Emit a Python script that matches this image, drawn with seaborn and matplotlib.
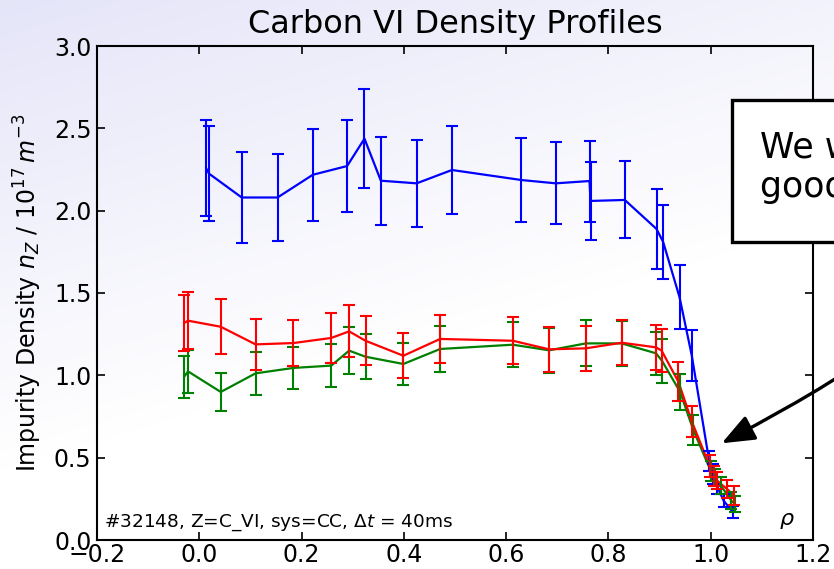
import numpy as np
import pandas as pd
import matplotlib
matplotlib.use("Agg")
import matplotlib.pyplot as plt
import seaborn as sns
from matplotlib.patches import FancyArrowPatch, Rectangle
from matplotlib.path import Path

# Carbon VI density profiles: normalised radius, density (1e17 m^-3) and 1-sigma errors
rho_a = [0.013, 0.019, 0.083, 0.153, 0.222, 0.289, 0.323, 0.355, 0.425, 0.494,
         0.630, 0.697, 0.763, 0.765, 0.832, 0.894, 0.907, 0.939, 0.963,
         0.997, 1.005, 1.012, 1.025, 1.043]
dens_a = [2.26, 2.225, 2.08, 2.08, 2.218, 2.271, 2.437, 2.182, 2.166, 2.247,
          2.186, 2.166, 2.18, 2.059, 2.065, 1.889, 1.81, 1.475, 1.12,
          0.48, 0.40, 0.33, 0.24, 0.17]
err_a = [0.29, 0.29, 0.275, 0.266, 0.28, 0.28, 0.30, 0.268, 0.263, 0.27,
         0.256, 0.25, 0.246, 0.238, 0.234, 0.245, 0.227, 0.195, 0.154,
         0.06, 0.06, 0.05, 0.04, 0.035]

rho_b = [-0.030, -0.022, 0.042, 0.110, 0.184, 0.258, 0.293, 0.325, 0.399, 0.471,
         0.613, 0.684, 0.756, 0.826, 0.893, 0.905, 0.940, 0.966,
         1.000, 1.008, 1.020, 1.040, 1.047]
dens_b = [0.99, 1.024, 0.899, 1.012, 1.045, 1.059, 1.15, 1.113, 1.069, 1.16,
          1.186, 1.152, 1.194, 1.194, 1.134, 1.087, 0.90, 0.668,
          0.42, 0.38, 0.33, 0.24, 0.22]
err_b = [0.128, 0.13, 0.117, 0.129, 0.13, 0.13, 0.143, 0.138, 0.13, 0.139,
         0.138, 0.137, 0.14, 0.135, 0.132, 0.132, 0.111, 0.091,
         0.06, 0.05, 0.05, 0.05, 0.05]

rho_c = [-0.030, -0.022, 0.042, 0.110, 0.184, 0.258, 0.293, 0.325, 0.399, 0.471,
         0.613, 0.684, 0.756, 0.826, 0.893, 0.904, 0.937, 0.963,
         0.998, 1.006, 1.012, 1.032, 1.045]
dens_c = [1.317, 1.332, 1.295, 1.188, 1.196, 1.227, 1.267, 1.21, 1.119, 1.221,
          1.21, 1.158, 1.164, 1.198, 1.17, 1.15, 0.96, 0.72,
          0.45, 0.39, 0.36, 0.31, 0.27]
err_c = [0.169, 0.172, 0.168, 0.153, 0.137, 0.152, 0.158, 0.148, 0.137, 0.147,
         0.143, 0.136, 0.137, 0.135, 0.135, 0.13, 0.118, 0.093,
         0.065, 0.06, 0.05, 0.055, 0.06]

series_names = ["A", "B", "C"]
series_colors = {"A": "#0000ff", "B": "#008000", "C": "#ff0000"}

x_ticks = [-0.2, 0.0, 0.2, 0.4, 0.6, 0.8, 1.0, 1.2]
y_ticks = [0.0, 0.5, 1.0, 1.5, 2.0, 2.5, 3.0]

frames = []
for name, r, d, e in zip(series_names, [rho_a, rho_b, rho_c],
                         [dens_a, dens_b, dens_c], [err_a, err_b, err_c]):
    frames.append(pd.DataFrame({"series": name, "rho": r, "density": d, "err": e}))
df = pd.concat(frames, ignore_index=True)

sns.set_style("ticks", {"xtick.direction": "in", "ytick.direction": "in",
                        "axes.edgecolor": "black", "text.color": "black",
                        "axes.labelcolor": "black", "xtick.color": "black",
                        "ytick.color": "black"})
plt.rcParams["font.family"] = ["DejaVu Sans"]
plt.rcParams["mathtext.fontset"] = "dejavusans"

W, H = 834, 569
fig = plt.figure(figsize=(W / 100, H / 100), dpi=100)

# soft lavender-to-white backdrop behind the whole figure
yy, xx = np.mgrid[0:H, 0:W]
amount = np.clip(1.0 - (yy + 0.3 * xx) / 470.0, 0, 1)[..., None]
top_col = np.array([0.898, 0.898, 0.976])
grad = 1.0 - amount * (1.0 - top_col)
bg = fig.add_axes([0, 0, 1, 1], zorder=-10)
bg.imshow(grad, aspect="auto", interpolation="bilinear")
bg.axis("off")

ax = fig.add_axes([97 / W, 1 - 540 / H, (813 - 97) / W, (540 - 46) / H])
ax.set_facecolor("none")

sns.lineplot(data=df, x="rho", y="density", hue="series", hue_order=series_names,
             palette=series_colors, estimator=None, sort=False, lw=1.6,
             legend=False, ax=ax)

for name in series_names:
    sub = df[df["series"] == name]
    ax.errorbar(sub["rho"], sub["density"], yerr=sub["err"], fmt="none",
                ecolor=series_colors[name], elinewidth=1.5, capsize=4.5,
                capthick=1.5)

ax.set_xlim(-0.2, 1.2)
ax.set_ylim(0, 3.0)
ax.set_xticks(x_ticks)
ax.set_yticks(y_ticks)
ax.tick_params(direction="in", length=6, width=1.2, top=True, right=True,
               labelsize=17, pad=4, colors="black")
ax.tick_params(axis="x", pad=2)
for sp in ax.spines.values():
    sp.set_linewidth(1.5)
    sp.set_visible(True)

ax.set_title("Carbon VI Density Profiles", fontsize=23, pad=9, color="black")
ax.set_xlabel("")
ax.set_ylabel(r"Impurity Density $n_Z$ / $10^{17}\,m^{-3}$", fontsize=17,
              labelpad=7, color="black")

ax.text(0.01, 0.026, r"#32148, Z=C_VI, sys=CC, $\Delta t$ = 40ms",
        transform=ax.transAxes, fontsize=13.3, ha="left", va="baseline")
ax.text(0.975, 0.03, r"$\rho$", transform=ax.transAxes, fontsize=16,
        ha="right", va="baseline")

# callout box running off the right edge
box = Rectangle((732 / W, 1 - 242 / H), 0.4, 142 / H, transform=fig.transFigure,
                facecolor="white", edgecolor="black", lw=2.4, zorder=5)
fig.add_artist(box)
fig.text(760 / W, 1 - 158 / H, "We want", fontsize=25, ha="left",
         va="baseline", zorder=6)
fig.text(760 / W, 1 - 197 / H, "good data here", fontsize=25, ha="left",
         va="baseline", zorder=6)

# curved arrow pointing at the edge region
p_start = (880 / W, 1 - 345 / H)
p_ctrl = (854.7 / W, 1 - 372.8 / H)
p_end = (721.7 / W, 1 - 443.3 / H)
arrow_path = Path([p_start, p_ctrl, p_end], [Path.MOVETO, Path.CURVE3, Path.CURVE3])
arrow = FancyArrowPatch(path=arrow_path,
                        arrowstyle="-|>,head_length=0.5,head_width=0.2",
                        mutation_scale=40, lw=2.4, color="black",
                        transform=fig.transFigure, zorder=6)
fig.add_artist(arrow)

fig.savefig("out.png", dpi=100)
